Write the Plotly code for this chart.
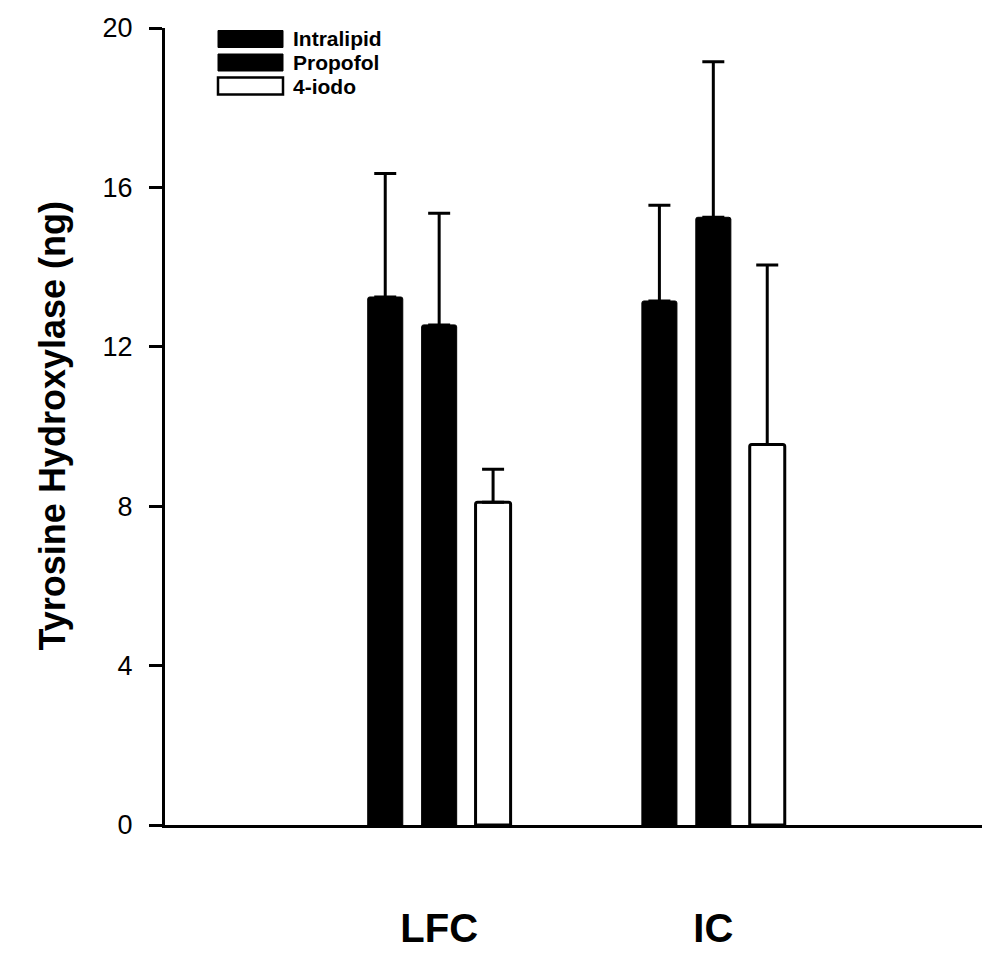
import plotly.graph_objects as go

# ---- data ----
categories = ["LFC", "IC"]
cat_pos = [1, 2]
series = ["Intralipid", "Propofol", "4-iodo"]
intralipid = [13.25, 13.15]
propofol = [12.55, 15.25]
iodo = [8.1, 9.55]
intralipid_err = [3.1, 2.4]
propofol_err = [2.8, 3.9]
iodo_err = [0.83, 4.5]
y_ticks = [0, 4, 8, 12, 16, 20]

values = [intralipid, propofol, iodo]
errors = [intralipid_err, propofol_err, iodo_err]
fills = ["black", "black", "white"]

FONT = "Liberation Sans, Arial, sans-serif"

fig = go.Figure()
for name, vals, errs, fill in zip(series, values, errors, fills):
    fig.add_trace(go.Bar(
        x=cat_pos, y=vals, name=name,
        marker=dict(color=fill, line=dict(color="black", width=3 if fill == "white" else 1),
                    cornerradius=2),
        error_y=dict(type="data", symmetric=False, array=errs, arrayminus=[0] * len(errs),
                     color="black", thickness=3, width=11),
        showlegend=False,
    ))

W, H = 984, 955
ML, MR, MT, MB = 165, 2, 28, 130
pw = W - ML - MR
ph = H - MT - MB


def px_to_paper(px, py):
    return (px - ML) / pw, (H - MB - py) / ph


shapes = []
annotations = []
for i, (name, fill) in enumerate(zip(series, fills)):
    cy = 39 + 23.5 * i
    x0, y0 = px_to_paper(218, cy + 8.5)
    x1, y1 = px_to_paper(283, cy - 8.5)
    shapes.append(dict(type="rect", xref="paper", yref="paper", x0=x0, x1=x1, y0=y0, y1=y1,
                       fillcolor=fill, line=dict(color="black", width=2.5 if fill == "white" else 1)))
    tx, ty = px_to_paper(291, cy)
    annotations.append(dict(xref="paper", yref="paper", x=tx, y=ty, text=name, showarrow=False,
                            xanchor="left", yanchor="middle",
                            font=dict(family=FONT, size=21, color="black", weight=700)))

tx, ty = px_to_paper(52, 0)
annotations.append(dict(xref="paper", yref="paper", x=tx, y=0.5, text="Tyrosine Hydroxylase (ng)",
                        showarrow=False, textangle=-90, xanchor="center", yanchor="middle",
                        font=dict(family=FONT, size=36, color="black", weight=700)))

fig.update_layout(
    width=W, height=H,
    margin=dict(l=ML, r=MR, t=MT, b=MB, pad=0, autoexpand=False),
    paper_bgcolor="white", plot_bgcolor="white",
    barmode="group", bargap=0.41, bargroupgap=0.35,
    shapes=shapes, annotations=annotations,
    font=dict(family=FONT, color="black"),
)
fig.update_xaxes(range=[0, 2.98], tickmode="array", tickvals=cat_pos, ticktext=categories,
                 showline=True, linewidth=3, linecolor="black", ticks="", showgrid=False,
                 zeroline=False, ticklabelstandoff=66, automargin=False,
                 tickfont=dict(family=FONT, size=40, color="black", weight=700))
fig.update_yaxes(range=[0, 20], tickmode="array", tickvals=y_ticks, showline=True, linewidth=3,
                 linecolor="black", ticks="outside", ticklen=13, tickwidth=2.5, tickcolor="black",
                 showgrid=False, zeroline=False, ticklabelstandoff=11, automargin=False,
                 tickfont=dict(family=FONT, size=27, color="black"))

fig.write_html("out.html")
